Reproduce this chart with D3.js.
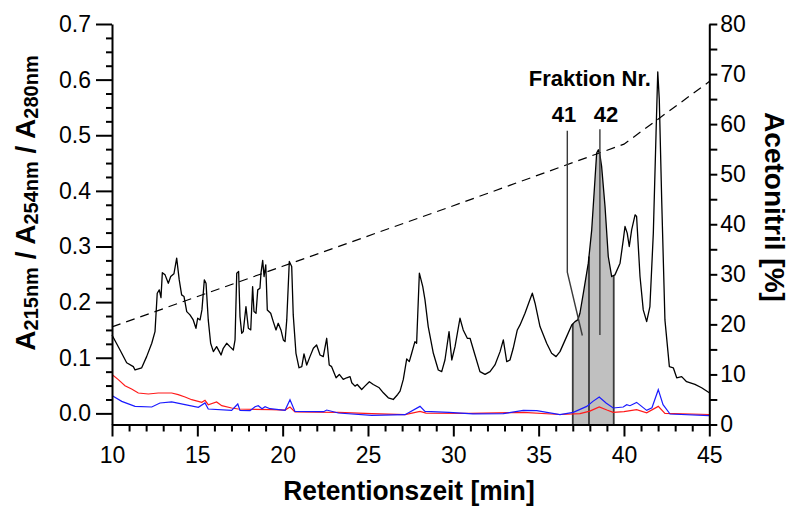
<!DOCTYPE html>
<html><head><meta charset="utf-8">
<script src="https://cdn.jsdelivr.net/npm/d3@7"></script>
<style>
html,body{margin:0;padding:0;background:#fff;}
svg{display:block;font-family:"Liberation Sans",Arial,sans-serif;}
</style></head>
<body>
<svg id="chart" width="793" height="508"></svg>
<script>
// ---- data (time in min, absorbance) ----
const timeTicks = [10,15,20,25,30,35,40,45];
const absTicks = [0,0.1,0.2,0.3,0.4,0.5,0.6,0.7];
const acnTicks = [0,10,20,30,40,50,60,70,80];

const a215 = [[10.00,0.141],[10.47,0.114],[10.86,0.091],[11.25,0.084],[11.35,0.078],[11.74,0.082],[12.03,0.102],[12.33,0.126],[12.52,0.147],[12.65,0.216],[12.77,0.222],[12.87,0.208],[12.95,0.253],[13.11,0.249],[13.30,0.234],[13.44,0.246],[13.63,0.251],[13.79,0.279],[13.94,0.240],[14.08,0.213],[14.22,0.210],[14.38,0.183],[14.57,0.177],[14.76,0.168],[14.92,0.153],[15.02,0.171],[15.16,0.168],[15.27,0.186],[15.41,0.240],[15.51,0.234],[15.64,0.168],[15.78,0.126],[15.94,0.111],[16.13,0.120],[16.29,0.111],[16.39,0.105],[16.52,0.117],[16.72,0.126],[16.91,0.120],[17.11,0.114],[17.21,0.132],[17.31,0.252],[17.42,0.255],[17.50,0.174],[17.60,0.144],[17.69,0.147],[17.85,0.192],[17.99,0.153],[18.13,0.150],[18.24,0.228],[18.32,0.183],[18.44,0.180],[18.54,0.222],[18.67,0.225],[18.73,0.252],[18.83,0.275],[18.91,0.246],[19.01,0.267],[19.10,0.186],[19.30,0.180],[19.45,0.165],[19.61,0.150],[19.74,0.162],[19.90,0.150],[20.04,0.132],[20.14,0.129],[20.24,0.168],[20.39,0.273],[20.53,0.264],[20.62,0.177],[20.78,0.108],[20.96,0.082],[21.12,0.084],[21.25,0.107],[21.41,0.087],[21.60,0.102],[21.80,0.117],[21.99,0.123],[22.19,0.105],[22.38,0.102],[22.58,0.135],[22.73,0.087],[22.87,0.084],[23.13,0.064],[23.32,0.070],[23.55,0.061],[23.75,0.064],[23.95,0.066],[24.05,0.055],[24.24,0.049],[24.37,0.052],[24.63,0.043],[24.82,0.049],[25.08,0.057],[25.31,0.052],[25.66,0.046],[25.90,0.037],[26.19,0.028],[26.48,0.025],[26.74,0.034],[26.88,0.040],[27.07,0.061],[27.27,0.098],[27.42,0.093],[27.56,0.108],[27.75,0.129],[27.85,0.126],[28.01,0.252],[28.11,0.240],[28.21,0.228],[28.34,0.204],[28.53,0.156],[28.83,0.108],[29.12,0.078],[29.32,0.075],[29.51,0.096],[29.75,0.147],[29.91,0.096],[30.10,0.120],[30.39,0.171],[30.58,0.150],[30.82,0.135],[30.98,0.135],[31.27,0.105],[31.56,0.075],[31.86,0.070],[32.15,0.075],[32.44,0.087],[32.74,0.111],[32.93,0.132],[33.13,0.093],[33.32,0.096],[33.51,0.117],[33.75,0.150],[33.91,0.159],[34.20,0.180],[34.45,0.201],[34.63,0.216],[34.79,0.198],[35.08,0.156],[35.47,0.126],[35.76,0.108],[36.02,0.102],[36.25,0.111],[36.64,0.138],[36.94,0.159],[37.13,0.165],[37.29,0.168],[37.42,0.180],[37.62,0.216],[37.91,0.270],[38.11,0.330],[38.30,0.420],[38.40,0.468],[38.50,0.474],[38.59,0.465],[38.69,0.444],[38.89,0.372],[39.08,0.282],[39.28,0.246],[39.47,0.249],[39.77,0.270],[39.96,0.312],[40.06,0.336],[40.19,0.324],[40.31,0.300],[40.45,0.330],[40.65,0.357],[40.74,0.354],[40.94,0.246],[41.13,0.186],[41.33,0.165],[41.52,0.192],[41.72,0.324],[41.88,0.504],[41.98,0.614],[42.07,0.564],[42.21,0.384],[42.40,0.168],[42.66,0.084],[42.89,0.082],[43.09,0.064],[43.38,0.066],[43.67,0.057],[44.16,0.052],[44.55,0.046],[45.00,0.037]];

const a254 = [[10.02,0.0695],[10.37,0.0607],[10.76,0.0498],[11.15,0.0438],[11.54,0.0366],[12.13,0.0348],[12.71,0.0366],[13.50,0.0366],[13.88,0.0336],[14.28,0.0295],[14.67,0.0246],[15.26,0.0198],[15.45,0.0234],[15.64,0.0156],[16.13,0.0205],[16.43,0.0138],[17.01,0.0097],[17.40,0.0079],[19.36,0.0066],[20.14,0.0060],[20.43,0.0115],[20.72,0.0025],[23.26,0.0018],[25.22,-0.0005],[27.17,-0.0023],[28.05,0.0036],[28.40,0.0005],[31.00,0.0000],[34.10,0.0018],[36.25,-0.0020],[37.42,-0.0005],[38.00,0.0040],[38.55,0.0115],[39.00,0.0060],[39.37,0.0018],[40.00,0.0030],[40.74,0.0066],[41.33,0.0010],[42.01,0.0126],[42.40,0.0000],[45.00,-0.0020]];

const a280 = [[10.02,0.0318],[10.57,0.0216],[11.35,0.0126],[12.33,0.0115],[12.81,0.0187],[13.50,0.0205],[14.28,0.0156],[15.06,0.0108],[15.45,0.0187],[15.64,0.0079],[17.01,0.0054],[17.37,0.0169],[17.50,0.0054],[18.09,0.0049],[18.38,0.0120],[18.57,0.0138],[18.79,0.0084],[18.97,0.0120],[19.26,0.0084],[20.14,0.0054],[20.43,0.0246],[20.72,0.0036],[22.40,0.0030],[22.58,0.0060],[23.26,0.0007],[25.22,-0.0036],[27.17,-0.0023],[28.05,0.0126],[28.34,0.0036],[29.75,0.0018],[31.15,-0.0010],[32.93,-0.0005],[34.10,0.0054],[34.89,0.0049],[36.25,-0.0023],[37.03,0.0018],[37.82,0.0126],[38.18,0.0216],[38.55,0.0295],[38.95,0.0187],[39.37,0.0097],[39.96,0.0115],[40.16,0.0156],[40.35,0.0138],[40.74,0.0198],[41.33,0.0054],[41.64,0.0102],[42.01,0.0426],[42.29,0.0156],[42.70,-0.0011],[45.00,-0.0041]];

// acetonitrile gradient (%)
const gradient = [[10,19.5],[20,31.6],[30,43.7],[40,56.0],[45,68.5]];

// collected fractions (min)
const fractionBounds = [37.0, 37.95, 39.4];
const frac41Line = [[36.68,0.508],[36.68,0.254],[37.56,0.140]];
const frac42Line = [[38.59,0.511],[38.59,0.141]];
const fracLabels = [{text:"41", t:36.49, v:0.523},{text:"42", t:38.95, v:0.523}];
const fracTitle = {text:"Fraktion Nr.", t:38.0, v:0.589};

// ---- layout ----
const svg = d3.select("#chart");
const x = d3.scaleLinear().domain([10,45]).range([112,709.3]);
const yL = d3.scaleLinear().domain([-0.02,0.7]).range([424.5,24]);
const yR = d3.scaleLinear().domain([0,80]).range([424.5,24]);

function interp(data, t){
  for(let i=1;i<data.length;i++){
    if(data[i][0]>=t){
      const [t0,v0]=data[i-1],[t1,v1]=data[i];
      return v0+(v1-v0)*(t-t0)/(t1-t0);
    }
  }
  return data[data.length-1][1];
}

// gray fill of collected fractions
const f0 = fractionBounds[0], f1 = fractionBounds[fractionBounds.length-1];
const fillPts = [[f0,interp(a215,f0)]].concat(a215.filter(d=>d[0]>f0&&d[0]<f1)).concat([[f1,interp(a215,f1)]]);
svg.append("path")
  .attr("d", d3.area().x(d=>x(d[0])).y0(yL(-0.02)).y1(d=>yL(d[1]))(fillPts))
  .attr("fill","#c0c0c0");

// fraction boundary lines
svg.selectAll(".fb").data(fractionBounds).enter().append("line")
  .attr("x1",d=>x(d)).attr("x2",d=>x(d))
  .attr("y1",yL(-0.02)).attr("y2",d=>yL(interp(a215,d)))
  .attr("stroke","#3a3a3a").attr("stroke-width",1.8);

const line = d3.line().x(d=>x(d[0])).y(d=>yL(d[1]));

svg.append("path").attr("d",line(a254)).attr("fill","none").attr("stroke","#ff1a1a").attr("stroke-width",1.2);
svg.append("path").attr("d",line(a280)).attr("fill","none").attr("stroke","#1a1aff").attr("stroke-width",1.2);
svg.append("path").attr("d",line(a215)).attr("fill","none").attr("stroke","#000").attr("stroke-width",1.3).attr("stroke-linejoin","round");

// gradient dashed
svg.append("path").attr("d",d3.line().x(d=>x(d[0])).y(d=>yR(d[1]))(gradient))
  .attr("fill","none").attr("stroke","#000").attr("stroke-width",1.2).attr("stroke-dasharray","9,6");

// annotation lines
[frac41Line, frac42Line].forEach(l=>{
  svg.append("path").attr("d",line(l)).attr("fill","none").attr("stroke","#3a3a3a").attr("stroke-width",1.4);
});
svg.selectAll(".fl").data(fracLabels).enter().append("text")
  .attr("x",d=>x(d.t)).attr("y",d=>yL(d.v)).attr("text-anchor","middle")
  .attr("font-weight","bold").attr("font-size",22).text(d=>d.text);
svg.append("text").attr("x",x(fracTitle.t)).attr("y",yL(fracTitle.v)).attr("text-anchor","middle")
  .attr("font-weight","bold").attr("font-size",22).text(fracTitle.text);

// ---- axes ----
function styleAxis(g){
  g.selectAll("path.domain").attr("stroke","#000").attr("stroke-width",2);
  g.selectAll(".tick line").attr("stroke","#000").attr("stroke-width",2);
  g.selectAll("text").attr("font-size",23).attr("fill","#000").attr("font-family","'Liberation Sans',Arial,sans-serif");
}
// bottom
const gx = svg.append("g").attr("transform",`translate(0,${yL(-0.02)})`)
  .call(d3.axisBottom(x).tickValues(timeTicks).tickSize(12).tickSizeOuter(0).tickPadding(10).tickFormat(d3.format("d")));
styleAxis(gx);
const gxm = svg.append("g").attr("transform",`translate(0,${yL(-0.02)})`)
  .call(d3.axisBottom(x).tickValues(d3.range(10,46,1).filter(v=>v%5!==0)).tickSize(7).tickFormat(""));
styleAxis(gxm); gxm.select("path.domain").remove();

// left
const gy = svg.append("g").attr("transform",`translate(${x(10)},0)`)
  .call(d3.axisLeft(yL).tickValues(absTicks).tickSize(16).tickSizeOuter(0).tickPadding(5).tickFormat(d3.format(".1f")));
styleAxis(gy);
const minorAbs = d3.range(0,29).map(i=>i*0.025).filter(v=>Math.abs(v*10-Math.round(v*10))>1e-6);
const gym = svg.append("g").attr("transform",`translate(${x(10)},0)`)
  .call(d3.axisLeft(yL).tickValues(minorAbs).tickSize(6).tickFormat(""));
styleAxis(gym); gym.select("path.domain").remove();

// right
const gr = svg.append("g").attr("transform",`translate(${x(45)},0)`)
  .call(d3.axisRight(yR).tickValues(acnTicks).tickSize(8).tickSizeOuter(0).tickPadding(3).tickFormat(d3.format("d")));
styleAxis(gr);
const grm = svg.append("g").attr("transform",`translate(${x(45)},0)`)
  .call(d3.axisRight(yR).tickValues(d3.range(5,80,10)).tickSize(8).tickFormat(""));
styleAxis(grm); grm.select("path.domain").remove();

// ---- titles ----
svg.append("text").attr("transform","translate(409,500) scale(0.94,1)").attr("text-anchor","middle")
  .attr("font-weight","bold").attr("font-size",28).text("Retentionszeit [min]");

svg.append("text").attr("transform","translate(765,207) rotate(90)").attr("text-anchor","middle")
  .attr("font-weight","bold").attr("font-size",28).text("Acetonitril [%]");

const lt = svg.append("text").attr("transform","translate(35,203) rotate(-90)").attr("text-anchor","middle")
  .attr("font-weight","bold");
const parts = [["A",28,0],["215nm",20,3],[" / A",28,-3],["254nm",20,3],[" / A",28,-3],["280nm",20,3]];
parts.forEach(p=>{ lt.append("tspan").attr("font-size",p[1]).attr("dy",p[2]).text(p[0]); });
</script>
</body></html>
